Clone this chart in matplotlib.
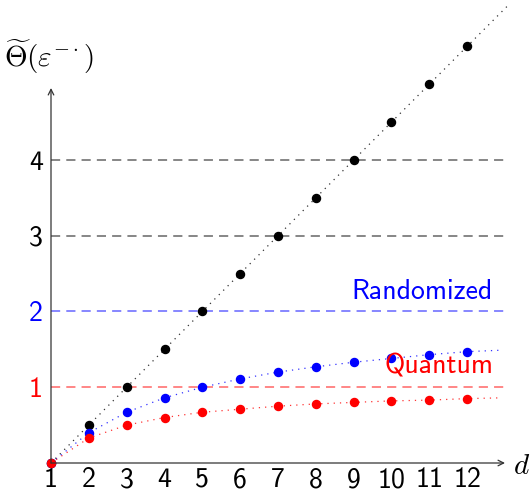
import matplotlib
matplotlib.use("Agg")
import matplotlib.pyplot as plt

plt.rcParams['mathtext.fontset'] = 'cm'
plt.rcParams['font.family'] = ['cmss10', 'DejaVu Sans']
plt.rcParams['axes.unicode_minus'] = False

# данные
d = [1, 2, 3, 4, 5, 6, 7, 8, 9, 10, 11, 12]
classical = [0, 0.5, 1.0, 1.5, 2.0, 2.5, 3.0, 3.5, 4.0, 4.5, 5.0, 5.5]
randomized = [0, 0.4, 0.67, 0.86, 1.0, 1.11, 1.2, 1.27, 1.33, 1.38, 1.43, 1.47]
quantum = [0, 0.33, 0.5, 0.6, 0.67, 0.71, 0.75, 0.78, 0.8, 0.82, 0.83, 0.85]
# концы пунктирных кривых за последней точкой
end_x = [13.1, 12.95, 12.9]
end_y = [6.05, 1.49, 0.86]
levels = [1, 2, 3, 4]
level_colors = ['red', 'blue', 'black', 'black']
ytick_labels = ['1', '2', '3', '4']

fig = plt.figure(figsize=(5.31, 4.93), dpi=100)
ax = fig.add_axes([51/531, 1 - 463/493, (505 - 51)/531, (463 - 88)/493])
ax.set_xlim(1, 13.0)
ax.set_ylim(0, 4.95)

for lv, c in zip(levels, level_colors):
    ax.plot([1, 13.0], [lv, lv], color=c, alpha=0.6, lw=1.1,
            linestyle=(0, (6, 4)), zorder=1)

series = [(classical, 'black'), (randomized, 'blue'), (quantum, 'red')]
for (vals, c), ex, ey in zip(series, end_x, end_y):
    ax.plot(d + [ex], vals + [ey], color=c, lw=0.9, alpha=0.8,
            linestyle=(0, (1, 4)), clip_on=False, zorder=2)
    ax.plot(d, vals, 'o', color=c, ms=5.8, clip_on=False, zorder=3)

for s in ax.spines.values():
    s.set_visible(False)

ax.annotate('', xy=(1, 4.95), xytext=(1, 0),
            arrowprops=dict(arrowstyle='->', lw=0.9, color='#333333', shrinkA=0, shrinkB=0),
            annotation_clip=False)
ax.annotate('', xy=(13.0, 0), xytext=(1, 0),
            arrowprops=dict(arrowstyle='->', lw=0.9, color='#333333', shrinkA=0, shrinkB=0),
            annotation_clip=False)

ax.set_xticks(d)
ax.set_xticklabels([str(v) for v in d], fontsize=20)
ax.set_yticks(levels)
ax.set_yticklabels(ytick_labels, fontsize=20)
for lbl, c in zip(ax.get_yticklabels(), level_colors):
    lbl.set_color(c)
ax.tick_params(axis='x', length=0, pad=3)
ax.tick_params(axis='y', length=0, pad=6)

ax.text(10.8, 2.26, 'Randomized', color='blue', fontsize=20, ha='center', va='center')
ax.text(11.25, 1.28, 'Quantum', color='red', fontsize=20, ha='center', va='center')
ax.text(13.43, -0.05, r'$d$', fontsize=21, ha='center', va='center')
fig.text(4/531, 1 - 57/493, r'$\widetilde{\Theta}(\varepsilon^{-\cdot})$', fontsize=21,
         ha='left', va='center')

fig.savefig('out.png', dpi=100)
